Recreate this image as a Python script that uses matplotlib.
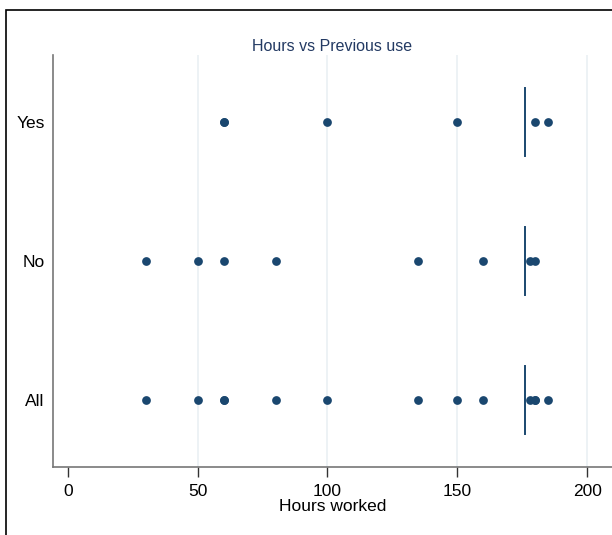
import matplotlib.pyplot as plt
from matplotlib.patches import Rectangle

plt.rcParams['font.family'] = ['Liberation Sans', 'DejaVu Sans']

categories = ["All", "No", "Yes"]
hours_all = [30, 50, 60, 60, 80, 100, 135, 150, 160, 178, 180, 180, 185]
hours_no = [30, 50, 60, 80, 135, 160, 178, 180]
hours_yes = [60, 60, 100, 150, 180, 185]
ref_line = 176
x_ticks = [0, 50, 100, 150, 200]

navy = "#1a476f"

fig = plt.figure(figsize=(6.12, 5.35), dpi=100)
# outer frame, runs off the right and bottom edges
fig.patches.append(Rectangle((6 / 612, -0.1), 1.2, 1 - 10 / 535 + 0.1,
                             transform=fig.transFigure, fill=False,
                             edgecolor="black", linewidth=1.2))

ax = fig.add_axes([53 / 612, 1 - 467 / 535, 1 - 53 / 612, (467 - 55) / 535])

for i, vals in enumerate([hours_all, hours_no, hours_yes]):
    ax.plot(vals, [i] * len(vals), "o", color=navy, markersize=6.3,
            markeredgewidth=0, zorder=3)
    ax.plot([ref_line, ref_line], [i - 0.245, i + 0.245], color=navy,
            linewidth=1.4, zorder=3)

ax.set_xlim(-5.7, 209.6)
ax.set_ylim(-0.48, 2.48)
ax.set_xticks(x_ticks)
ax.set_yticks(range(len(categories)))
ax.set_yticklabels(categories)
for x in x_ticks[1:]:
    ax.axvline(x, color="#eaf0f4", linewidth=1.2, zorder=1)

for s in ["top", "right"]:
    ax.spines[s].set_visible(False)
for s in ["left", "bottom"]:
    ax.spines[s].set_color("#777777")
    ax.spines[s].set_linewidth(1.2)

ax.tick_params(axis="y", length=0, pad=6, labelsize=12.5)
ax.tick_params(axis="x", length=7, width=1, color="#333333", labelsize=12.5, pad=5)
ax.set_xlabel("Hours worked", fontsize=12.5, labelpad=0)
ax.set_title("Hours vs Previous use", fontsize=11.5, color="#233a63", pad=3)

fig.savefig("out.png", dpi=100)
